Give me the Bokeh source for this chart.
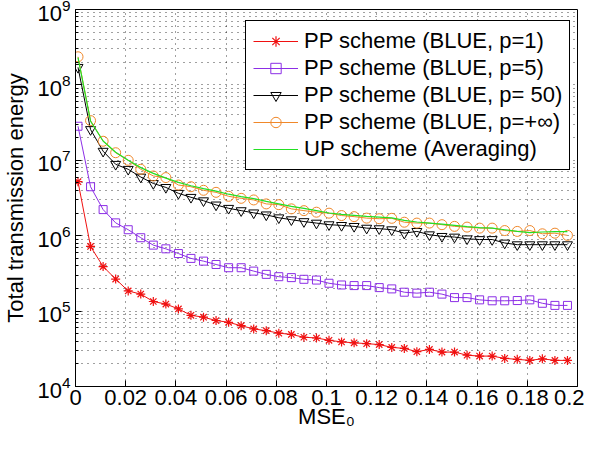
from bokeh.plotting import figure
from bokeh.models import FixedTicker, Legend, LegendItem
from bokeh.embed import file_html
from bokeh.resources import INLINE

mse0 = [0.001, 0.006, 0.011, 0.016, 0.021, 0.026, 0.031, 0.036, 0.041, 0.046,
        0.051, 0.056, 0.061, 0.066, 0.071, 0.076, 0.081, 0.086, 0.091, 0.096,
        0.101, 0.106, 0.111, 0.116, 0.121, 0.126, 0.131, 0.136, 0.141, 0.146,
        0.151, 0.156, 0.161, 0.166, 0.171, 0.176, 0.181, 0.186, 0.191, 0.196]

pp_p1 = [5.2e6, 7.2e5, 3.9e5, 2.66e5, 1.85e5, 1.68e5, 1.34e5, 1.24e5, 1.07e5, 8.8e4,
         8.3e4, 7.5e4, 7.1e4, 6.4e4, 5.8e4, 5.5e4, 5.1e4, 4.9e4, 4.5e4, 4.4e4,
         4.1e4, 3.9e4, 3.8e4, 3.7e4, 3.6e4, 3.3e4, 3.2e4, 2.9e4, 3.1e4, 2.86e4,
         2.86e4, 2.6e4, 2.53e4, 2.53e4, 2.36e4, 2.29e4, 2.22e4, 2.33e4, 2.22e4, 2.22e4]

pp_p5 = [2.83e7, 4.46e6, 2.22e6, 1.48e6, 1.2e6, 9.4e5, 7.5e5, 6.7e5, 5.8e5, 5.0e5,
         4.6e5, 4.15e5, 3.76e5, 3.76e5, 3.39e5, 3.07e5, 2.86e5, 2.78e5, 2.64e5, 2.58e5,
         2.34e5, 2.22e5, 2.18e5, 2.18e5, 2.05e5, 1.97e5, 1.78e5, 1.73e5, 1.78e5, 1.68e5,
         1.51e5, 1.51e5, 1.41e5, 1.37e5, 1.37e5, 1.38e5, 1.41e5, 1.27e5, 1.19e5, 1.19e5]

pp_p50 = [1.71e8, 2.56e7, 1.32e7, 8.85e6, 7.6e6, 6.0e6, 4.93e6, 4.37e6, 3.65e6, 3.23e6,
          2.91e6, 2.56e6, 2.31e6, 2.15e6, 2.01e6, 1.89e6, 1.73e6, 1.63e6, 1.54e6, 1.47e6,
          1.40e6, 1.37e6, 1.33e6, 1.26e6, 1.24e6, 1.2e6, 1.08e6, 1.14e6, 1.03e6, 9.8e5,
          9.6e5, 9.1e5, 8.9e5, 8.9e5, 8.0e5, 7.6e5, 7.6e5, 7.6e5, 7.6e5, 7.6e5]

pp_pinf = [2.36e8, 3.36e7, 1.79e7, 1.26e7, 1.0e7, 7.6e6, 6.2e6, 5.9e6, 4.7e6, 4.46e6,
           4.0e6, 3.76e6, 3.33e6, 3.13e6, 2.98e6, 2.64e6, 2.58e6, 2.27e6, 2.15e6, 2.05e6,
           1.99e6, 1.85e6, 1.79e6, 1.71e6, 1.68e6, 1.70e6, 1.51e6, 1.47e6, 1.47e6, 1.40e6,
           1.33e6, 1.30e6, 1.26e6, 1.26e6, 1.17e6, 1.14e6, 1.17e6, 1.06e6, 1.08e6, 1.01e6]

up_avg = [2.3e8, 3.3e7, 1.8e7, 1.28e7, 1.0e7, 8.0e6, 6.7e6, 5.8e6, 5.1e6, 4.6e6,
          4.2e6, 3.9e6, 3.55e6, 3.3e6, 3.1e6, 2.85e6, 2.65e6, 2.45e6, 2.3e6, 2.15e6,
          2.0e6, 1.92e6, 1.86e6, 1.8e6, 1.76e6, 1.72e6, 1.6e6, 1.52e6, 1.47e6, 1.42e6,
          1.37e6, 1.32e6, 1.28e6, 1.26e6, 1.2e6, 1.14e6, 1.1e6, 1.12e6, 1.13e6, 1.13e6]

labels = ["PP scheme (BLUE, p=1)", "PP scheme (BLUE, p=5)", "PP scheme (BLUE, p= 50)",
          "PP scheme (BLUE, p=+\u221e)", "UP scheme (Averaging)"]

x_ticks = [0, 0.02, 0.04, 0.06, 0.08, 0.1, 0.12, 0.14, 0.16, 0.18, 0.2]
x_tick_labels = ["0", "0.02", "0.04", "0.06", "0.08", "0.1", "0.12", "0.14", "0.16", "0.18", "0.2"]
y_ticks = [1e4, 1e5, 1e6, 1e7, 1e8, 1e9]

FONT = "Liberation Sans"
FS = "22px"

p = figure(width=584, height=436, y_axis_type="log", x_range=(0, 0.2), y_range=(1e4, 1e9),
           output_backend="svg", toolbar_location=None,
           min_border_left=70, min_border_right=7, min_border_top=9, min_border_bottom=50)

y_minor = [d * m for d in y_ticks[:-1] for m in range(2, 10)]
p.xaxis.ticker = FixedTicker(ticks=x_ticks, minor_ticks=[])
p.yaxis.ticker = FixedTicker(ticks=y_ticks, minor_ticks=y_minor)
p.xaxis.major_label_overrides = {t: l for t, l in zip(x_ticks, x_tick_labels)}

for ax in (p.xaxis[0], p.yaxis[0]):
    ax.major_label_text_font = FONT
    ax.major_label_text_font_size = FS
    ax.axis_label_text_font = FONT
    ax.axis_label_text_font_size = FS
    ax.axis_label_text_font_style = "normal"
    ax.major_tick_in = 6
    ax.major_tick_out = 0
    ax.minor_tick_in = 3
    ax.minor_tick_out = 0
    ax.axis_line_color = "black"
    ax.major_tick_line_color = "black"
    ax.minor_tick_line_color = "black"
    ax.major_label_text_color = "black"
    ax.axis_label_text_color = "black"
p.xaxis.minor_tick_line_color = None
p.xaxis.axis_label = "MSE\u2080"
p.yaxis.axis_label = "Total transmission energy"
p.xaxis.major_label_standoff = 3
p.yaxis.major_label_standoff = 5
p.xaxis.axis_label_standoff = -4
p.yaxis.axis_label_standoff = 6

for g in (p.xgrid[0], p.ygrid[0]):
    g.grid_line_color = "black"
    g.grid_line_alpha = 0.75
    g.grid_line_dash = "1 5"
    g.grid_line_width = 1
p.ygrid.minor_grid_line_color = "black"
p.ygrid.minor_grid_line_alpha = 0.75
p.ygrid.minor_grid_line_dash = "1 5"

p.outline_line_color = "black"
p.outline_line_alpha = 1
p.background_fill_color = "white"
p.border_fill_color = "white"

red = "#f01010"
purple = "#8c2ee6"
orange = "#f0882a"
green = "#22e022"

l1 = p.line(mse0, pp_p1, line_color=red, line_width=1)
m1 = p.scatter(mse0, pp_p1, marker="asterisk", size=9, line_color=red, line_width=1.2)
l2 = p.line(mse0, pp_p5, line_color=purple, line_width=1)
m2 = p.scatter(mse0, pp_p5, marker="square", size=8, line_color=purple, fill_color=None, line_width=1)
l3 = p.line(mse0, pp_p50, line_color="black", line_width=1)
m3 = p.scatter(mse0, pp_p50, marker="inverted_triangle", size=10, line_color="black", fill_color=None, line_width=1)
l4 = p.line(mse0, pp_pinf, line_color=orange, line_width=1)
m4 = p.scatter(mse0, pp_pinf, marker="circle", size=10, line_color=orange, fill_color=None, line_width=1)
l5 = p.line(mse0, up_avg, line_color=green, line_width=1.2)

legend = Legend(items=[
    LegendItem(label=labels[0], renderers=[l1, m1]),
    LegendItem(label=labels[1], renderers=[l2, m2]),
    LegendItem(label=labels[2], renderers=[l3, m3]),
    LegendItem(label=labels[3], renderers=[l4, m4]),
    LegendItem(label=labels[4], renderers=[l5]),
], location=(170, 216))
legend.label_text_font = FONT
legend.label_text_font_size = FS
legend.label_text_color = "black"
legend.glyph_width = 45
legend.glyph_height = 26
legend.label_height = 26
legend.label_standoff = 6
legend.spacing = 1
legend.padding = 7
legend.margin = 0
legend.border_line_color = "black"
legend.border_line_alpha = 1
legend.background_fill_color = "white"
legend.background_fill_alpha = 1
p.add_layout(legend)

open("out.html", "w").write(file_html(p, INLINE))
